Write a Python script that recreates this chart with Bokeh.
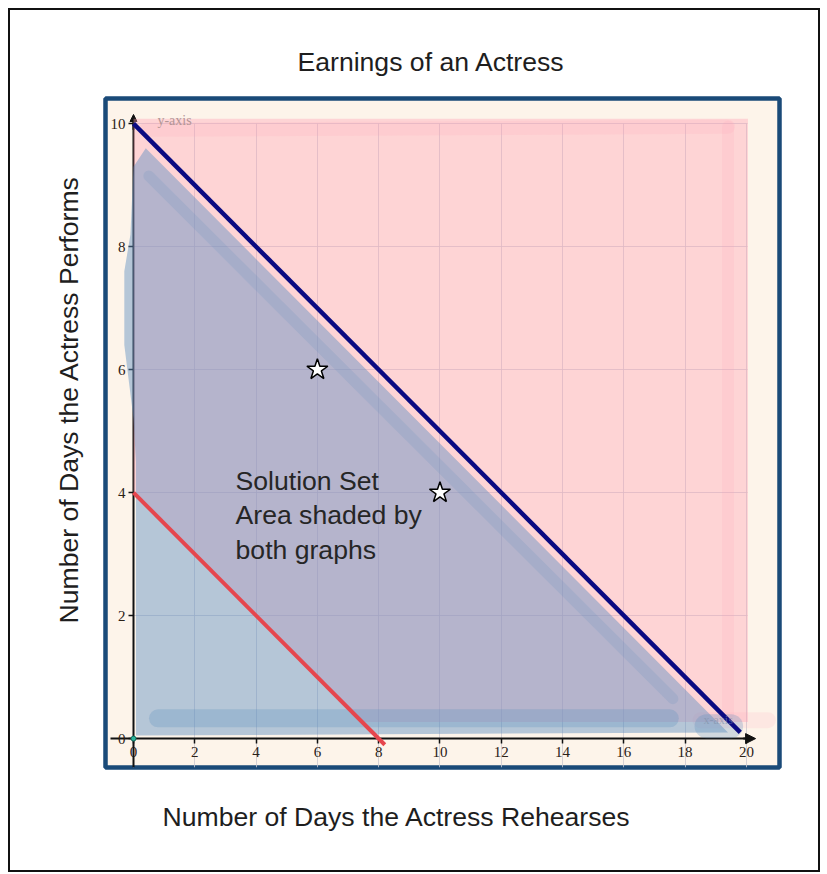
from bokeh.plotting import figure
from bokeh.models import Range1d, FixedTicker, Title, Arrow, NormalHead
from bokeh.core.properties import value
from bokeh.embed import file_html
from bokeh.resources import INLINE

# ---------------- data ----------------
title_text = "Earnings of an Actress"
x_label = "Number of Days the Actress Rehearses"
y_label = "Number of Days the Actress Performs"

x_ticks = [0, 2, 4, 6, 8, 10, 12, 14, 16, 18, 20]
y_ticks = [0, 2, 4, 6, 8, 10]

# boundary lines
red_x = [0, 8.2]          # x + 2y = 8
red_y = [4, -0.1]
navy_x = [0, 19.8]        # x + 2y = 20
navy_y = [10, 0.1]

# test points (stars)
star_x = [6, 10]
star_y = [6, 4]

# origin marker
origin_x = [0]
origin_y = [0]

# shaded region of the red inequality (pink)
pink_x = [0, 0, 20.05, 20.05, 7.46]
pink_y = [4, 10.08, 10.08, 0.27, 0.27]
pink_stroke_xs = [[0.4, 19.4], [19.4, 19.4], [18.5, 20.7]]
pink_stroke_ys = [[9.9, 9.95], [9.95, 0.4], [0.3, 0.3]]
pink_stroke_w = [14, 12, 16]

# shaded region of the navy inequality (blue)
blue_x = [0.08, 19.4, 0.4, 0.0, -0.1, -0.3, -0.3, 0.0, 0.08]
blue_y = [0.05, 0.1, 9.6, 9.3, 8.2, 7.6, 6.4, 5.2, 4.5]
blue_stroke_xs = [[0.8, 17.5], [0.5, 17.6], [18.7, 19.5]]
blue_stroke_ys = [[0.33, 0.33], [9.15, 0.65], [0.2, 0.2]]
blue_stroke_w = [18, 11, 24]
blue_stroke_a = [0.28, 0.17, 0.28]

note_x = [3.33]
note_y = [4.44]
note_text = ["Solution Set\nArea shaded by\nboth graphs"]

yaxis_tag_x = [0.78]
yaxis_tag_y = [10.05]
xaxis_tag_x = [18.6]
xaxis_tag_y = [0.3]

# ---------------- figure ----------------
p = figure(
    frame_width=674, frame_height=669,
    min_border_left=95, min_border_right=39,
    min_border_top=88, min_border_bottom=103,
    x_range=Range1d(-0.914, 21.08), y_range=Range1d(-0.47, 10.41),
    output_backend="svg", toolbar_location=None,
)
p.styles = {"border": "2px solid #111111", "margin": "8px 0 0 8px"}
p.background_fill_color = "#fdf4ea"
p.border_fill_color = "white"
p.outline_line_color = "#1a4a78"
p.outline_line_width = 4.5

# titles
p.title.text = title_text
p.title.align = "left"
p.title.offset = 192
p.title.standoff = 43
p.title.text_font = "Liberation Sans"
p.title.text_font_size = "26.6px"
p.title.text_font_style = "normal"
p.title.text_color = "#1e1e1e"

p.add_layout(Title(text=x_label, align="left", offset=57, vertical_align="top",
                   standoff=68, text_font="Liberation Sans", text_font_size="26.6px",
                   text_font_style="normal", text_color="#1e1e1e"), "below")
p.add_layout(Title(text=y_label, align="left", offset=144, vertical_align="bottom",
                   standoff=43, text_font="Liberation Sans", text_font_size="26.6px",
                   text_font_style="normal", text_color="#1e1e1e"), "left")

# axes inside the frame
for ax, ticks, bnds in ((p.xaxis, x_ticks, (-0.75, 20.2)), (p.yaxis, y_ticks, (-0.47, 10.1))):
    ax.fixed_location = 0
    ax.ticker = FixedTicker(ticks=ticks)
    ax.bounds = bnds
    ax.axis_line_color = "#111111"
    ax.axis_line_width = 2
    ax.major_tick_in = 0
    ax.major_tick_out = 5
    ax.major_tick_line_color = "#111111"
    ax.major_tick_line_width = 1.5
    ax.minor_tick_line_color = None
    ax.major_label_text_font = "Liberation Serif"
    ax.major_label_text_font_size = "15px"
    ax.major_label_text_color = "#2a2016"
    ax.major_label_standoff = 3

# grid
p.xgrid.ticker = FixedTicker(ticks=x_ticks)
p.xgrid.bounds = (-0.01, 20.01)
p.xgrid.cross_bounds = (-0.47, 10.0)
p.ygrid.ticker = FixedTicker(ticks=y_ticks)
p.ygrid.bounds = (-0.01, 10.01)
p.ygrid.cross_bounds = (0, 20.05)
for g in (p.xgrid, p.ygrid):
    g.grid_line_color = "#cbc8cf"
    g.grid_line_width = 1
    g.grid_line_alpha = 0.8

# shaded regions
p.patch(pink_x, pink_y, fill_color="#ffa0b4", fill_alpha=0.38, line_color=None, level="overlay")
p.multi_line(xs=pink_stroke_xs, ys=pink_stroke_ys, line_width=pink_stroke_w,
             line_color="#ff9fb4", line_alpha=0.15, line_cap="round", level="overlay")
p.patch(blue_x, blue_y, fill_color="#5d8fc0", fill_alpha=0.45, line_color=None, level="overlay")
p.multi_line(xs=blue_stroke_xs, ys=blue_stroke_ys, line_width=blue_stroke_w,
             line_color="#5d8fc0", line_alpha=blue_stroke_a, line_cap="round", level="overlay")

# boundary lines
p.line(red_x, red_y, line_color="#e5464e", line_width=4, level="overlay")
p.line(navy_x, navy_y, line_color="#0a0a82", line_width=4.5, level="overlay")

# axis arrows
p.add_layout(Arrow(end=NormalHead(size=10, fill_color="#111111", line_color="#111111"),
                   x_start=19.9, y_start=0, x_end=20.3, y_end=0,
                   line_color="#111111", line_width=2))
p.add_layout(Arrow(end=NormalHead(size=7, fill_color="#111111", line_color="#111111"),
                   x_start=0, y_start=9.9, x_end=0, y_end=10.15,
                   line_color="#111111", line_width=2))

p.scatter(origin_x, origin_y, size=5, fill_color="#2bb39a", line_color="#0d6b5c", level="overlay")

# small axis tags
p.text(yaxis_tag_x, yaxis_tag_y, text=["y-axis"], text_font=value("Liberation Serif"),
       text_font_size=value("14px"), text_color="#b39595", text_baseline="middle", level="overlay")
p.text(xaxis_tag_x, xaxis_tag_y, text=["x-axis"], text_font=value("Liberation Serif"),
       text_font_size=value("12px"), text_color="#7f8fa8", text_alpha=0.6,
       text_baseline="middle", level="overlay")

# stars
p.scatter(star_x, star_y, marker="star", size=22, fill_color="white",
          line_color="black", line_width=1.5, level="overlay")

# annotation
p.text(note_x, note_y, text=note_text, text_font=value("Liberation Sans"),
       text_font_size=value("26.6px"), text_color="#262626", text_baseline="top",
       text_align="left", text_line_height=1.15, level="overlay")

open("out.html", "w").write(file_html(p, INLINE))
